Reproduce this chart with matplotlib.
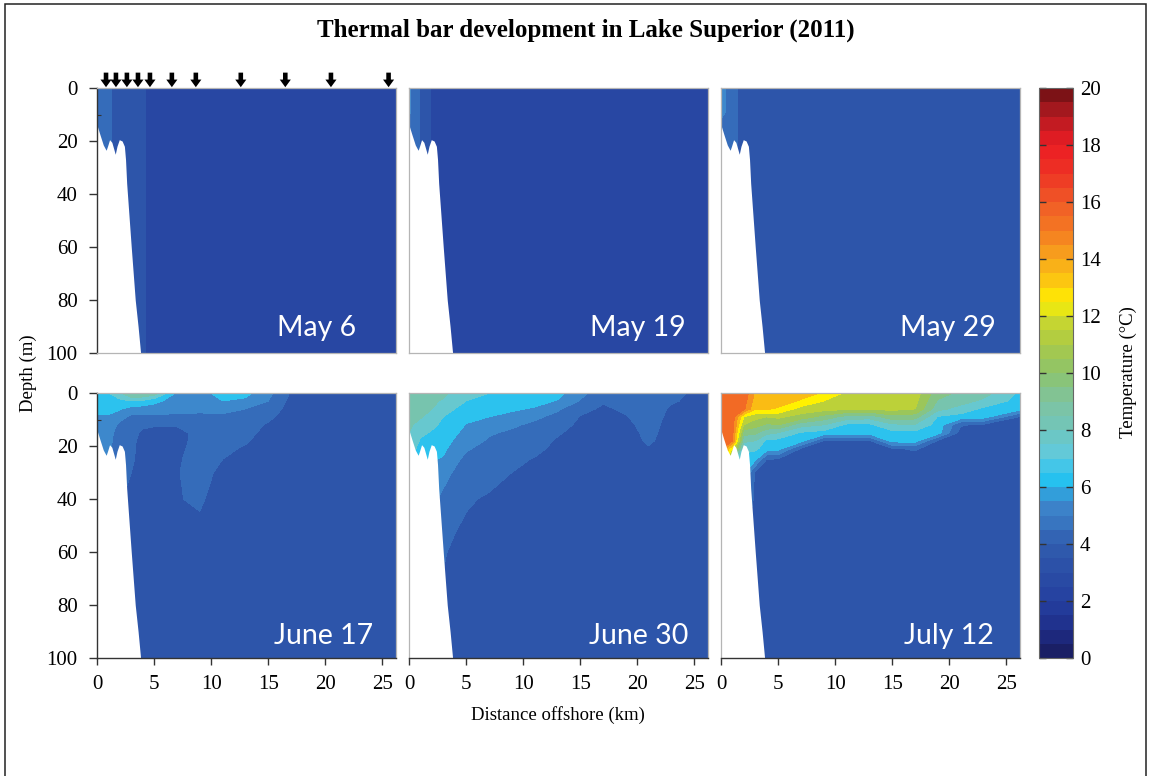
import numpy as np
import matplotlib
matplotlib.use("Agg")
import matplotlib.pyplot as plt
from matplotlib.colors import LinearSegmentedColormap, ListedColormap, Normalize
from matplotlib.cm import ScalarMappable
from matplotlib.patches import Rectangle
from matplotlib.ticker import MultipleLocator

plt.rcParams['font.family'] = ['Liberation Serif', 'DejaVu Serif']

# ---------------- data ----------------
title = "Thermal bar development in Lake Superior (2011)"
dates = ["May 6", "May 19", "May 29", "June 17", "June 30", "July 12"]
distance_km = [0, 1, 2, 3, 4, 5, 7, 9, 11, 13, 15, 17, 19, 21, 23, 26.2]
depth_m = [0, 3, 6, 9, 12, 15, 18, 21, 25, 30, 40, 60, 80, 100]
station_km = [0.79, 1.66, 2.62, 3.59, 4.64, 6.56, 8.66, 12.6, 16.5, 20.5, 25.55]
bottom_km = [0, 0.25, 0.55, 0.8, 0.92, 1.1, 1.3, 1.5, 1.6, 1.75, 1.95, 2.2, 2.4, 2.5, 2.6, 3.0, 3.35, 3.6, 3.82]
bottom_depth = [14, 17.5, 21.5, 23.5, 22, 19.5, 20.5, 23.5, 25, 22, 19.5, 20, 22, 27, 36, 60, 80, 90, 100]
x_ticks = [0, 5, 10, 15, 20, 25]
y_ticks = [0, 20, 40, 60, 80, 100]
cbar_ticks = [0, 2, 4, 6, 8, 10, 12, 14, 16, 18, 20]

# temperature profiles (one list per distance, values at depth_m), deg C
may6 = [
    [4.4, 4.4, 4.4, 4.4, 4.4, 4.4, 4.4, 4.4, 4.4, 4.4, 4.4, 4.4, 4.4, 4.4],
    [4.2, 4.2, 4.2, 4.2, 4.2, 4.2, 4.2, 4.2, 4.2, 4.2, 4.2, 4.2, 4.2, 4.2],
    [3.6, 3.6, 3.6, 3.6, 3.6, 3.6, 3.6, 3.6, 3.6, 3.6, 3.6, 3.6, 3.6, 3.6],
    [3.4, 3.4, 3.4, 3.4, 3.4, 3.4, 3.4, 3.4, 3.4, 3.4, 3.4, 3.4, 3.4, 3.4],
    [3.1, 3.1, 3.1, 3.1, 3.1, 3.1, 3.1, 3.1, 3.1, 3.1, 3.1, 3.1, 3.1, 3.1],
    [2.8, 2.8, 2.8, 2.8, 2.8, 2.8, 2.8, 2.8, 2.8, 2.8, 2.8, 2.8, 2.8, 2.8],
    [2.8, 2.8, 2.8, 2.8, 2.8, 2.8, 2.8, 2.8, 2.8, 2.8, 2.8, 2.8, 2.8, 2.8],
    [2.8, 2.8, 2.8, 2.8, 2.8, 2.8, 2.8, 2.8, 2.8, 2.8, 2.8, 2.8, 2.8, 2.8],
    [2.8, 2.8, 2.8, 2.8, 2.8, 2.8, 2.8, 2.8, 2.8, 2.8, 2.8, 2.8, 2.8, 2.8],
    [2.8, 2.8, 2.8, 2.8, 2.8, 2.8, 2.8, 2.8, 2.8, 2.8, 2.8, 2.8, 2.8, 2.8],
    [2.8, 2.8, 2.8, 2.8, 2.8, 2.8, 2.8, 2.8, 2.8, 2.8, 2.8, 2.8, 2.8, 2.8],
    [2.8, 2.8, 2.8, 2.8, 2.8, 2.8, 2.8, 2.8, 2.8, 2.8, 2.8, 2.8, 2.8, 2.8],
    [2.8, 2.8, 2.8, 2.8, 2.8, 2.8, 2.8, 2.8, 2.8, 2.8, 2.8, 2.8, 2.8, 2.8],
    [2.8, 2.8, 2.8, 2.8, 2.8, 2.8, 2.8, 2.8, 2.8, 2.8, 2.8, 2.8, 2.8, 2.8],
    [2.8, 2.8, 2.8, 2.8, 2.8, 2.8, 2.8, 2.8, 2.8, 2.8, 2.8, 2.8, 2.8, 2.8],
    [2.8, 2.8, 2.8, 2.8, 2.8, 2.8, 2.8, 2.8, 2.8, 2.8, 2.8, 2.8, 2.8, 2.8],
]
may19 = [
    [5.2, 5.2, 5.2, 5.2, 4.8, 4.8, 4.8, 4.8, 4.8, 4.8, 4.8, 4.8, 4.8, 4.8],
    [3.9, 3.9, 3.9, 3.9, 3.9, 3.9, 3.9, 3.9, 3.9, 3.9, 3.9, 3.9, 3.9, 3.9],
    [2.9, 2.9, 2.9, 2.9, 2.9, 2.9, 2.9, 2.9, 2.9, 2.9, 2.9, 2.9, 2.9, 2.9],
    [2.7, 2.7, 2.7, 2.7, 2.7, 2.7, 2.7, 2.7, 2.7, 2.7, 2.7, 2.7, 2.7, 2.7],
    [2.6, 2.6, 2.6, 2.6, 2.6, 2.6, 2.6, 2.6, 2.6, 2.6, 2.6, 2.6, 2.6, 2.6],
    [2.5, 2.5, 2.5, 2.5, 2.5, 2.5, 2.5, 2.5, 2.5, 2.5, 2.5, 2.5, 2.5, 2.5],
    [2.4, 2.4, 2.4, 2.4, 2.4, 2.4, 2.4, 2.4, 2.4, 2.4, 2.4, 2.4, 2.4, 2.4],
    [2.4, 2.4, 2.4, 2.4, 2.4, 2.4, 2.4, 2.4, 2.4, 2.4, 2.4, 2.4, 2.4, 2.4],
    [2.4, 2.4, 2.4, 2.4, 2.4, 2.4, 2.4, 2.4, 2.4, 2.4, 2.4, 2.4, 2.4, 2.4],
    [2.4, 2.4, 2.4, 2.4, 2.4, 2.4, 2.4, 2.4, 2.4, 2.4, 2.4, 2.4, 2.4, 2.4],
    [2.4, 2.4, 2.4, 2.4, 2.4, 2.4, 2.4, 2.4, 2.4, 2.4, 2.4, 2.4, 2.4, 2.4],
    [2.4, 2.4, 2.4, 2.4, 2.4, 2.4, 2.4, 2.4, 2.4, 2.4, 2.4, 2.4, 2.4, 2.4],
    [2.4, 2.4, 2.4, 2.4, 2.4, 2.4, 2.4, 2.4, 2.4, 2.4, 2.4, 2.4, 2.4, 2.4],
    [2.4, 2.4, 2.4, 2.4, 2.4, 2.4, 2.4, 2.4, 2.4, 2.4, 2.4, 2.4, 2.4, 2.4],
    [2.4, 2.4, 2.4, 2.4, 2.4, 2.4, 2.4, 2.4, 2.4, 2.4, 2.4, 2.4, 2.4, 2.4],
    [2.4, 2.4, 2.4, 2.4, 2.4, 2.4, 2.4, 2.4, 2.4, 2.4, 2.4, 2.4, 2.4, 2.4],
]
may29 = [
    [5.5, 5.5, 5.5, 5.5, 4.9, 4.9, 4.9, 4.9, 4.9, 4.9, 4.9, 4.9, 4.9, 4.9],
    [4.3, 4.3, 4.3, 4.3, 4.3, 4.3, 4.3, 4.3, 4.3, 4.3, 4.3, 4.3, 4.3, 4.3],
    [3.6, 3.6, 3.6, 3.6, 3.6, 3.6, 3.6, 3.6, 3.6, 3.6, 3.6, 3.6, 3.6, 3.6],
    [3.4, 3.4, 3.4, 3.4, 3.4, 3.4, 3.4, 3.4, 3.4, 3.4, 3.4, 3.4, 3.4, 3.4],
    [3.3, 3.3, 3.3, 3.3, 3.3, 3.3, 3.3, 3.3, 3.3, 3.3, 3.3, 3.3, 3.3, 3.3],
    [3.3, 3.3, 3.3, 3.3, 3.3, 3.3, 3.3, 3.3, 3.3, 3.3, 3.3, 3.3, 3.3, 3.3],
    [3.3, 3.3, 3.3, 3.3, 3.3, 3.3, 3.3, 3.3, 3.3, 3.3, 3.3, 3.3, 3.3, 3.3],
    [3.3, 3.3, 3.3, 3.3, 3.3, 3.3, 3.3, 3.3, 3.3, 3.3, 3.3, 3.3, 3.3, 3.3],
    [3.3, 3.3, 3.3, 3.3, 3.3, 3.3, 3.3, 3.3, 3.3, 3.3, 3.3, 3.3, 3.3, 3.3],
    [3.3, 3.3, 3.3, 3.3, 3.3, 3.3, 3.3, 3.3, 3.3, 3.3, 3.3, 3.3, 3.3, 3.3],
    [3.3, 3.3, 3.3, 3.3, 3.3, 3.3, 3.3, 3.3, 3.3, 3.3, 3.3, 3.3, 3.3, 3.3],
    [3.3, 3.3, 3.3, 3.3, 3.3, 3.3, 3.3, 3.3, 3.3, 3.3, 3.3, 3.3, 3.3, 3.3],
    [3.3, 3.3, 3.3, 3.3, 3.3, 3.3, 3.3, 3.3, 3.3, 3.3, 3.3, 3.3, 3.3, 3.3],
    [3.3, 3.3, 3.3, 3.3, 3.3, 3.3, 3.3, 3.3, 3.3, 3.3, 3.3, 3.3, 3.3, 3.3],
    [3.3, 3.3, 3.3, 3.3, 3.3, 3.3, 3.3, 3.3, 3.3, 3.3, 3.3, 3.3, 3.3, 3.3],
    [3.3, 3.3, 3.3, 3.3, 3.3, 3.3, 3.3, 3.3, 3.3, 3.3, 3.3, 3.3, 3.3, 3.3],
]
june17 = [
    [6.9, 6.7, 6.5, 5.8, 5.4, 5.3, 5.3, 5.3, 5.3, 5.3, 5.3, 5.3, 5.3, 5.3],
    [7.0, 6.8, 6.5, 5.8, 5.5, 5.4, 5.3, 5.2, 5.1, 5.0, 4.8, 4.5, 4.5, 4.5],
    [7.9, 6.7, 6.1, 5.3, 4.8, 4.5, 4.4, 4.3, 4.3, 4.2, 4.1, 4.0, 4.0, 4.0],
    [9.2, 7.0, 5.6, 4.8, 4.6, 4.4, 4.3, 4.3, 4.2, 4.0, 3.7, 3.5, 3.5, 3.5],
    [9.2, 6.8, 5.5, 4.8, 4.2, 3.8, 3.6, 3.5, 3.5, 3.5, 3.5, 3.5, 3.5, 3.5],
    [8.6, 6.3, 5.5, 4.8, 4.1, 3.7, 3.5, 3.5, 3.5, 3.5, 3.5, 3.5, 3.5, 3.5],
    [5.8, 5.5, 5.3, 4.8, 4.1, 3.7, 3.7, 3.8, 3.9, 3.95, 3.95, 3.6, 3.5, 3.5],
    [5.4, 5.3, 5.2, 4.8, 4.4, 4.3, 4.3, 4.3, 4.3, 4.3, 4.12, 3.6, 3.5, 3.5],
    [6.6, 6.0, 5.3, 4.8, 4.5, 4.4, 4.3, 4.2, 4.0, 3.8, 3.6, 3.5, 3.5, 3.5],
    [6.3, 5.8, 5.0, 4.7, 4.4, 4.3, 4.1, 3.9, 3.7, 3.6, 3.5, 3.5, 3.5, 3.5],
    [5.3, 5.0, 4.6, 4.2, 3.9, 3.7, 3.6, 3.5, 3.5, 3.5, 3.5, 3.5, 3.5, 3.5],
    [3.9, 3.7, 3.6, 3.5, 3.5, 3.5, 3.5, 3.5, 3.5, 3.5, 3.5, 3.5, 3.5, 3.5],
    [3.5, 3.5, 3.5, 3.5, 3.5, 3.5, 3.5, 3.5, 3.5, 3.5, 3.5, 3.5, 3.5, 3.5],
    [3.5, 3.5, 3.5, 3.5, 3.5, 3.5, 3.5, 3.5, 3.5, 3.5, 3.5, 3.5, 3.5, 3.5],
    [3.5, 3.5, 3.5, 3.5, 3.5, 3.5, 3.5, 3.5, 3.5, 3.5, 3.5, 3.5, 3.5, 3.5],
    [3.5, 3.5, 3.5, 3.5, 3.5, 3.5, 3.5, 3.5, 3.5, 3.5, 3.5, 3.5, 3.5, 3.5],
]
june30 = [
    [9.0, 8.8, 8.6, 8.4, 8.2, 8.0, 7.8, 7.6, 7.4, 7.0, 6.5, 6.0, 6.0, 6.0],
    [8.8, 8.6, 8.4, 8.1, 7.6, 7.2, 6.9, 6.6, 6.4, 6.2, 6.0, 5.5, 5.0, 5.0],
    [8.6, 8.3, 8.0, 7.6, 7.2, 6.9, 6.6, 6.4, 6.1, 5.8, 5.2, 4.6, 4.2, 4.0],
    [8.4, 7.8, 7.3, 7.0, 6.8, 6.6, 6.4, 6.2, 5.9, 5.3, 4.8, 4.1, 3.8, 3.7],
    [7.6, 7.3, 7.0, 6.7, 6.4, 6.15, 5.9, 5.6, 5.2, 4.9, 4.4, 3.8, 3.7, 3.7],
    [7.3, 7.0, 6.6, 6.25, 5.95, 5.7, 5.4, 5.1, 4.8, 4.6, 4.1, 3.7, 3.7, 3.7],
    [7.0, 6.7, 6.4, 6.0, 5.6, 5.1, 4.9, 4.7, 4.5, 4.3, 3.9, 3.7, 3.7, 3.7],
    [6.8, 6.5, 6.15, 5.7, 5.15, 4.85, 4.6, 4.45, 4.2, 4.0, 3.8, 3.7, 3.7, 3.7],
    [6.6, 6.3, 5.9, 5.2, 4.8, 4.6, 4.4, 4.2, 3.95, 3.8, 3.7, 3.7, 3.7, 3.7],
    [6.3, 5.95, 5.15, 4.7, 4.4, 4.1, 3.9, 3.8, 3.7, 3.7, 3.7, 3.7, 3.7, 3.7],
    [5.3, 4.95, 4.3, 3.95, 3.8, 3.7, 3.7, 3.7, 3.7, 3.7, 3.7, 3.7, 3.7, 3.7],
    [4.3, 4.1, 3.85, 3.75, 3.7, 3.7, 3.7, 3.7, 3.7, 3.7, 3.7, 3.7, 3.7, 3.7],
    [4.4, 4.3, 4.15, 3.95, 3.8, 3.7, 3.7, 3.7, 3.7, 3.7, 3.7, 3.7, 3.7, 3.7],
    [4.5, 4.45, 4.4, 4.35, 4.3, 4.2, 4.1, 3.95, 3.8, 3.7, 3.7, 3.7, 3.7, 3.7],
    [4.2, 4.08, 3.9, 3.8, 3.7, 3.7, 3.7, 3.7, 3.7, 3.7, 3.7, 3.7, 3.7, 3.7],
    [3.7, 3.7, 3.7, 3.7, 3.7, 3.7, 3.7, 3.7, 3.7, 3.7, 3.7, 3.7, 3.7, 3.7],
]
july12 = [
    [15.9, 15.8, 15.7, 15.6, 15.5, 15.4, 15.3, 15.2, 15.1, 15.0, 15.0, 15.0, 15.0, 15.0],
    [15.9, 15.8, 15.7, 15.6, 15.5, 15.3, 15.1, 12.0, 8.0, 7.0, 6.5, 6.0, 6.0, 6.0],
    [15.8, 15.5, 15.2, 12.0, 11.0, 9.4, 8.2, 7.3, 6.6, 6.4, 6.0, 4.0, 3.6, 3.6],
    [13.8, 13.5, 13.1, 11.3, 10.4, 9.2, 8.0, 7.2, 6.2, 3.8, 3.6, 3.6, 3.6, 3.6],
    [13.7, 13.5, 13.1, 11.0, 9.8, 8.3, 6.8, 6.5, 4.0, 3.6, 3.6, 3.6, 3.6, 3.6],
    [13.6, 13.4, 12.9, 11.2, 10.0, 8.0, 6.7, 6.4, 3.9, 3.6, 3.6, 3.6, 3.6, 3.6],
    [13.4, 12.9, 11.6, 10.6, 8.4, 6.9, 6.4, 3.9, 3.6, 3.6, 3.6, 3.6, 3.6, 3.6],
    [12.9, 12.0, 11.4, 9.6, 8.0, 6.6, 4.0, 3.6, 3.6, 3.6, 3.6, 3.6, 3.6, 3.6],
    [11.8, 11.6, 11.2, 8.6, 6.8, 6.4, 3.9, 3.6, 3.6, 3.6, 3.6, 3.6, 3.6, 3.6],
    [11.8, 11.6, 11.1, 8.4, 6.8, 6.4, 3.9, 3.6, 3.6, 3.6, 3.6, 3.6, 3.6, 3.6],
    [11.7, 11.6, 11.3, 9.6, 7.8, 6.7, 6.4, 3.9, 3.6, 3.6, 3.6, 3.6, 3.6, 3.6],
    [11.5, 11.3, 11.0, 9.4, 7.9, 6.7, 6.4, 4.1, 3.6, 3.6, 3.6, 3.6, 3.6, 3.6],
    [9.4, 8.9, 8.3, 6.9, 6.6, 6.4, 3.9, 3.6, 3.6, 3.6, 3.6, 3.6, 3.6, 3.6],
    [8.8, 8.4, 7.6, 6.6, 4.1, 3.6, 3.6, 3.6, 3.6, 3.6, 3.6, 3.6, 3.6, 3.6],
    [8.4, 7.8, 6.8, 6.4, 3.8, 3.6, 3.6, 3.6, 3.6, 3.6, 3.6, 3.6, 3.6, 3.6],
    [6.8, 6.6, 6.3, 3.9, 3.6, 3.6, 3.6, 3.6, 3.6, 3.6, 3.6, 3.6, 3.6, 3.6],
]
panels = [may6, may19, may29, june17, june30, july12]

# colour scale (temperature, colour)
cmap_points = [
    (0.0, '#191b5a'), (1.0, '#1f2d88'), (2.0, '#2440a0'), (3.0, '#2b4ea6'),
    (4.0, '#305cae'), (5.0, '#3b7dc6'), (5.6, '#3d8acd'), (6.0, '#20bff0'),
    (6.5, '#2cc2ee'), (7.0, '#5ecae2'), (8.0, '#70c6bc'), (9.0, '#7ec3a0'),
    (10.0, '#8dc46c'), (11.0, '#a9c948'), (12.0, '#cfd92a'), (12.5, '#fff200'),
    (13.0, '#fdd10d'), (14.0, '#f8a71b'), (15.0, '#f47a22'), (16.0, '#f05a27'),
    (17.0, '#ee3324'), (18.0, '#ec1c24'), (19.0, '#b71b22'), (20.0, '#6a0f12'),
]

# ---------------- figure ----------------
W_PX, H_PX = 1149, 776
fig = plt.figure(figsize=(W_PX / 100, H_PX / 100), dpi=100)
cmap = LinearSegmentedColormap.from_list('thermal', [(v / 20.0, c) for v, c in cmap_points], N=1024)
norm = Normalize(0, 20)
levels = np.arange(0, 21, 1)

lefts = [97, 409, 721]
tops = [88, 393]
pw, ph = 299, 265
label_pos = [(0.866, 0.064), (0.926, 0.064), (0.919, 0.064),
             (0.923, 0.053), (0.933, 0.053), (0.913, 0.053)]

for i, data in enumerate(panels):
    r, c = divmod(i, 3)
    ax = fig.add_axes([lefts[c] / W_PX, 1 - (tops[r] + ph) / H_PX, pw / W_PX, ph / H_PX])
    T = np.array(data).T
    ax.contourf(distance_km, depth_m, T, levels=levels, cmap=cmap, norm=norm, zorder=1)
    ax.fill_between(bottom_km, bottom_depth, 100, color='white', lw=0, zorder=2)
    ax.set_xlim(0, 26.2)
    ax.set_ylim(100, 0)
    for s in ax.spines.values():
        s.set_color('#b5b5b5')
        s.set_linewidth(0.9)
    ax.tick_params(axis='both', which='both', length=0, labelleft=False, labelbottom=False)
    if c == 0:
        ax.spines['left'].set_color('#333333')
        ax.spines['left'].set_linewidth(1.0)
        ax.set_yticks(y_ticks)
        ax.yaxis.set_minor_locator(MultipleLocator(10))
        ax.tick_params(axis='y', which='major', left=True, length=6, width=1.0,
                       direction='out', color='#333333', labelleft=True,
                       labelsize=15, pad=8)
        ax.tick_params(axis='y', which='minor', left=True, length=3, width=0.8,
                       direction='in', color='#333333')
    else:
        ax.set_yticks([])
    if r == 1:
        ax.spines['bottom'].set_color('#333333')
        ax.spines['bottom'].set_linewidth(1.0)
        ax.set_xticks(x_ticks)
        ax.tick_params(axis='x', which='major', bottom=True, length=5, width=1.0,
                       direction='out', color='#333333', labelbottom=True,
                       labelsize=15, pad=7)
    else:
        ax.set_xticks([])
    lx, ly = label_pos[i]
    ax.text(lx, ly, dates[i], transform=ax.transAxes, ha='right', va='baseline',
            color='white', fontsize=20.5, family=['Lato', 'DejaVu Sans'], zorder=5)
    if i == 0:
        for s in station_km:
            ax.annotate('', xy=(s, -0.3), xytext=(s, -5.8), xycoords='data',
                        textcoords='data', annotation_clip=False,
                        arrowprops=dict(arrowstyle='simple,head_width=0.8,head_length=0.55,tail_width=0.33',
                                        fc='black', ec='black', lw=0, shrinkA=0, shrinkB=0))

# colorbar
cax = fig.add_axes([1039 / W_PX, 1 - 658 / H_PX, 34 / W_PX, 570 / H_PX])
band_cmap = ListedColormap(cmap((np.arange(40) + 0.5) / 40))
sm = ScalarMappable(norm=norm, cmap=band_cmap)
cb = fig.colorbar(sm, cax=cax, ticks=cbar_ticks)
cb.outline.set_edgecolor('#666666')
cb.outline.set_linewidth(0.8)
cax.tick_params(direction='in', length=5, width=1.0, color='#333333', left=True,
                right=True, labelsize=15, pad=5)

# texts
fig.text(585.5 / W_PX, 1 - 30 / H_PX, title, ha='center', va='center',
         fontsize=18, fontweight='bold')
fig.text(28 / W_PX, 1 - 373 / H_PX, 'Depth (m)', rotation=90, ha='center', va='center', fontsize=13.5)
fig.text(558 / W_PX, 1 - 715 / H_PX, 'Distance offshore (km)', ha='center', va='center', fontsize=13.5)
fig.text(1128 / W_PX, 1 - 372 / H_PX, 'Temperature (°C)', rotation=90, ha='center', va='center', fontsize=13.5)

# outer frame
fig.patches.append(Rectangle((5 / W_PX, -0.02), (1146 - 5) / W_PX, 1 - 4 / H_PX + 0.02,
                             transform=fig.transFigure, fill=False, ec='#222222', lw=1.1))

fig.savefig('out.png', dpi=100)
